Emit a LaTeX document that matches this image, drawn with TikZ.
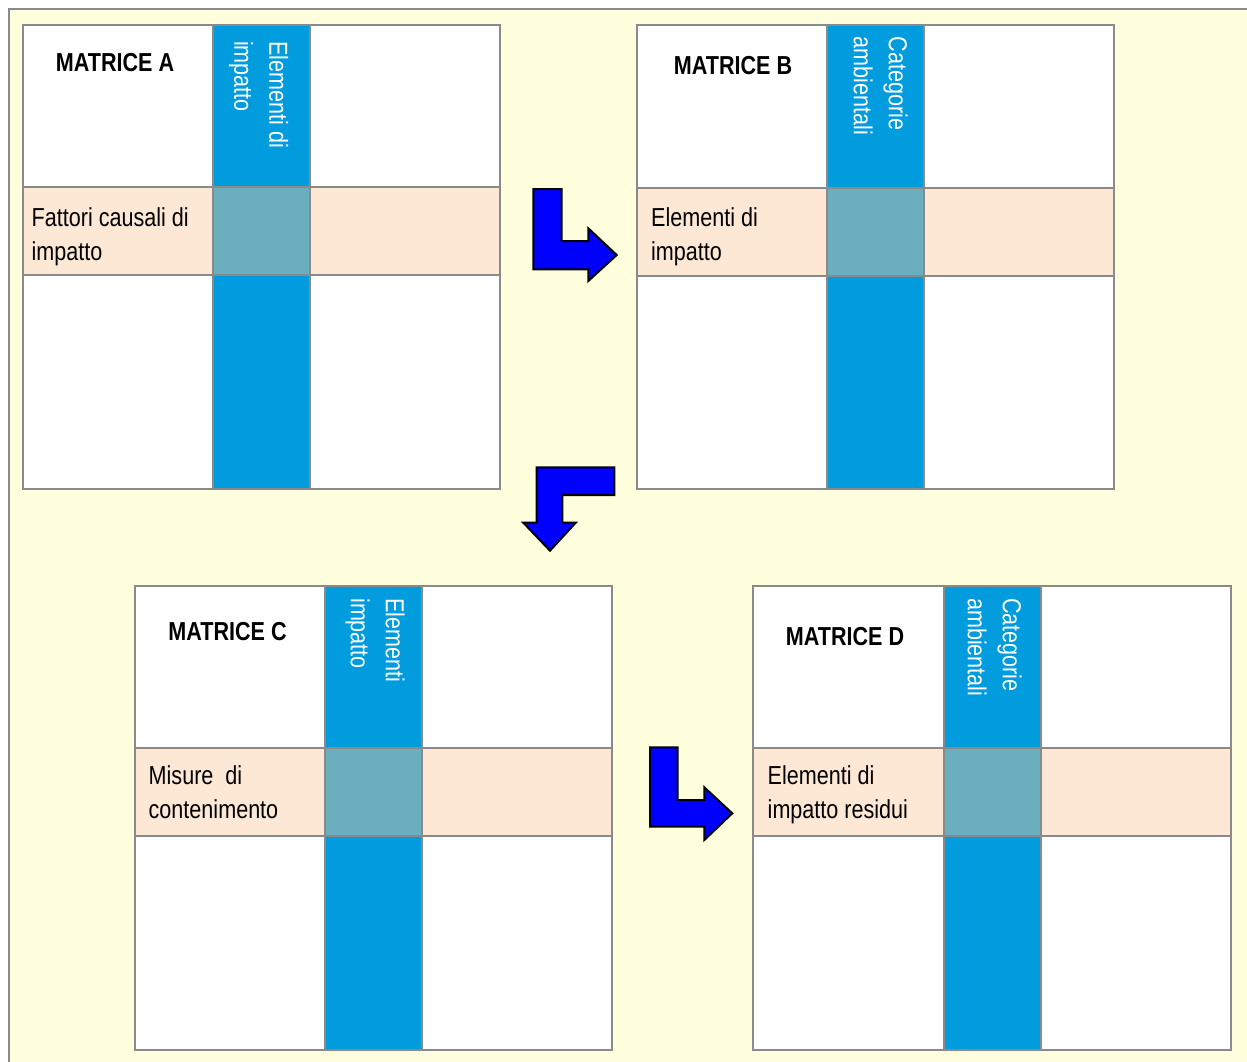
\documentclass[tikz,border=0pt]{standalone}
\usepackage{fontspec}
\setmainfont[FakeStretch=0.83]{Liberation Sans}
\definecolor{bgyellow}{RGB}{255,255,221}
\definecolor{framegray}{RGB}{138,138,138}
\definecolor{colblue}{RGB}{0,156,222}
\definecolor{rowpeach}{RGB}{253,232,213}
\definecolor{crossteal}{RGB}{107,175,190}
\definecolor{arrowblue}{RGB}{0,0,255}
\tikzset{
  grid/.style={draw=framegray, line width=2pt},
  title/.style={font=\fontsize{26}{34}\selectfont\bfseries, anchor=base, inner sep=0pt},
  rowlabel/.style={font=\fontsize{26}{34}\selectfont, anchor=north west, align=left, inner sep=0pt},
  collabel/.style={font=\fontsize{26}{35}\selectfont, text=white, rotate=-90, anchor=north west, align=left, inner sep=0pt},
  blockarrow/.style={fill=arrowblue, draw=black, line width=2pt, line join=miter}
}
\newcommand\mymatrix[3]{%
  \begin{scope}[shift={(#2,#3)}]
    \fill[white] (0,0) rectangle (477.5,464);
    \fill[rowpeach] (0,162.5) rectangle (477.5,250.5);
    \fill[colblue] (190.5,0) rectangle (287.5,464);
    \fill[crossteal] (190.5,162.5) rectangle (287.5,250.5);
    \draw[grid] (190.5,0) -- (190.5,464) (287.5,0) -- (287.5,464)
                (0,162.5) -- (477.5,162.5) (0,250.5) -- (477.5,250.5);
    \draw[grid] (0,0) rectangle (477.5,464);
    \coordinate (#1) at (0,0);
  \end{scope}}
\begin{document}
\begin{tikzpicture}[x=1pt,y=-1pt]
  \useasboundingbox (0,0) rectangle (1247,1061);
  \begin{scope}
    \clip (0,0) rectangle (1247,1061);
    \fill[white] (0,0) rectangle (1247,1061);
    \draw[fill=bgyellow, draw=framegray, line width=2pt] (9,9) rectangle (1270,1080);
  \end{scope}

  \mymatrix{ma}{22.5}{24.5}
  \mymatrix{mb}{636.5}{25}
  \mymatrix{mc}{134.5}{585.5}
  \mymatrix{md}{753}{585.5}

  % titles
  \node[title] (ta) at (115,71) {MATRICE A};
  \node[title] (tb) at (733,74.3) {MATRICE B};
  \node[title] (tc) at (227.5,640) {MATRICE C};
  \node[title] (td) at (845,645) {MATRICE D};

  % row labels
  \node[rowlabel] (ra) at (31.5,207) {Fattori causali di\\impatto};
  \node[rowlabel] (rb) at (651,207.5) {Elementi di\\impatto};
  \node[rowlabel] (rc) at (148.5,765.3) {Misure\ \ di\\contenimento};
  \node[rowlabel] (rd) at (767.5,765.3) {Elementi di\\impatto residui};

  % column labels
  \node[collabel] (ca) at (288.5,41) {Elementi di\\impatto};
  \node[collabel] (cb) at (908,36.5) {Categorie\\ambientali};
  \node[collabel] (cc) at (405,598) {Elementi\\impatto};
  \node[collabel] (cd) at (1022,598) {Categorie\\ambientali};

  % block arrows
  \draw[blockarrow] (533.3,189) -- (561.7,189) -- (561.7,241) -- (588.3,241)
    -- (588.3,228.3) -- (616.7,255) -- (588.3,281) -- (588.3,269.3)
    -- (533.3,269.3) -- cycle;
  \draw[blockarrow] (614.3,467.3) -- (536.7,467.3) -- (536.7,522.7) -- (523.3,522.7)
    -- (550,550.7) -- (575.7,522.7) -- (562.3,522.7) -- (562.3,495)
    -- (614.3,495) -- cycle;
  \draw[blockarrow] (650,747.3) -- (677.7,747.3) -- (677.7,800) -- (704.3,800)
    -- (704.3,787.3) -- (732.3,813.3) -- (704.3,840) -- (704.3,826.7)
    -- (650,826.7) -- cycle;
\end{tikzpicture}
\end{document}
